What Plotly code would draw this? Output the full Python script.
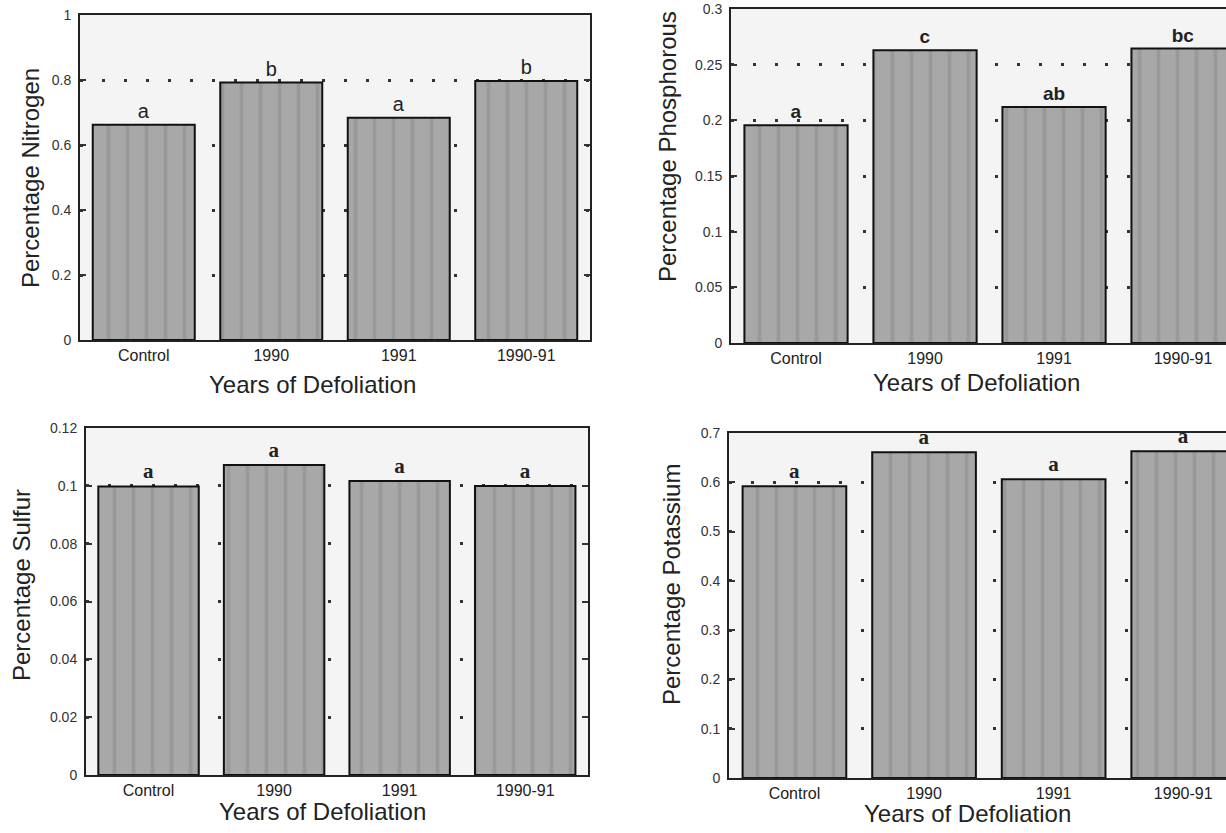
import plotly.graph_objects as go

categories = ["Control", "1990", "1991", "1990-91"]

nitrogen = [0.662, 0.792, 0.684, 0.797]
nitrogen_letters = ["a", "b", "a", "b"]

phosphorous = [0.1955, 0.263, 0.212, 0.2645]
phosphorous_letters = ["a", "c", "ab", "bc"]

sulfur = [0.0998, 0.1072, 0.1017, 0.0999]
sulfur_letters = ["a", "a", "a", "a"]

potassium = [0.592, 0.661, 0.606, 0.663]
potassium_letters = ["a", "a", "a", "a"]

W, H = 1226, 833

def px_x(a, b):
    return [a / W, min(b / W, 1.0)]

def px_y(top, bottom):
    return [1 - bottom / H, 1 - top / H]

panels = [
    dict(vals=nitrogen, letters=nitrogen_letters, ytitle="Percentage Nitrogen",
         xdom=px_x(80, 590), ydom=px_y(15, 340), xr=[-0.5, 3.5], yr=[0, 1], dt=0.2,
         mirror_y=True, lfont=dict(family="Liberation Sans, Arial", size=20, color="#222"),
         yt=(30, 178), xt=(313, 384)),
    dict(vals=phosphorous, letters=phosphorous_letters, ytitle="Percentage Phosphorous",
         xdom=px_x(731, 1226), ydom=px_y(9, 343), xr=[-0.504, 3.333], yr=[0, 0.3], dt=0.05,
         mirror_y=False, lfont=dict(family="Liberation Sans, Arial", size=19, color="#222", weight="bold"),
         yt=(667, 147), xt=(976, 382)),
    dict(vals=sulfur, letters=sulfur_letters, ytitle="Percentage Sulfur",
         xdom=px_x(86, 588), ydom=px_y(428, 775), xr=[-0.498, 3.5], yr=[0, 0.12], dt=0.02,
         mirror_y=True, lfont=dict(family="Liberation Serif, Times New Roman", size=21, color="#222", weight="bold"),
         yt=(21, 585), xt=(322, 811)),
    dict(vals=potassium, letters=potassium_letters, ytitle="Percentage Potassium",
         xdom=px_x(729, 1226), ydom=px_y(433, 778), xr=[-0.505, 3.33], yr=[0, 0.7], dt=0.1,
         mirror_y=False, lfont=dict(family="Liberation Serif, Times New Roman", size=21, color="#222", weight="bold"),
         yt=(671, 585), xt=(967, 813)),
]

fig = go.Figure()
annotations = []
tickfont = dict(family="Liberation Sans, Arial", size=14, color="#333")
titlefont = dict(family="Liberation Sans, Arial", size=24, color="#222")

for i, p in enumerate(panels, start=1):
    suffix = "" if i == 1 else str(i)
    fig.add_trace(go.Bar(
        x=categories, y=p["vals"], text=p["letters"], textposition="outside",
        textfont=p["lfont"], cliponaxis=False,
        marker=dict(color="#a3a3a3", line=dict(color="#111", width=2),
                    pattern=dict(shape="|", fgcolor="#8a8a8a", bgcolor="#a8a8a8",
                                 size=19, solidity=0.2)),
        xaxis="x" + suffix, yaxis="y" + suffix, showlegend=False, hoverinfo="x+y",
    ))
    fig.layout["xaxis" + suffix] = dict(
        domain=p["xdom"], anchor="y" + suffix, range=p["xr"], type="category",
        showline=True, linecolor="#222", linewidth=2, mirror=True, automargin=False,
        ticks="", showgrid=False, tickfont=dict(family="Liberation Sans, Arial", size=16, color="#222"),
        fixedrange=True,
    )
    fig.layout["yaxis" + suffix] = dict(
        domain=p["ydom"], anchor="x" + suffix, range=p["yr"], dtick=p["dt"], tick0=0,
        showline=True, linecolor="#222", linewidth=2, automargin=False,
        mirror="ticks" if p["mirror_y"] else False,
        ticks="inside", ticklen=6, tickwidth=1.5, tickcolor="#333",
        showgrid=True, gridcolor="#333", gridwidth=2.5, griddash="3px,19px",
        zeroline=False, tickfont=tickfont, ticklabelstandoff=4, fixedrange=True,
        ticklabeloverflow="allow",
    )
    annotations.append(dict(
        text=p["ytitle"], x=p["yt"][0] / W, y=1 - p["yt"][1] / H, xref="paper", yref="paper",
        textangle=-90, showarrow=False, font=titlefont, xanchor="center", yanchor="middle",
    ))
    annotations.append(dict(
        text="Years of Defoliation", x=p["xt"][0] / W, y=1 - p["xt"][1] / H, xref="paper", yref="paper",
        showarrow=False, font=titlefont, xanchor="center", yanchor="middle",
    ))

fig.update_layout(
    width=W, height=H, margin=dict(l=0, r=0, t=0, b=0, autoexpand=False),
    paper_bgcolor="white", plot_bgcolor="#f4f4f4",
    bargap=0.2, annotations=annotations,
    font=dict(family="Liberation Sans, Arial"),
)

fig.write_html(
    "out.html",
    config={"displayModeBar": False},
    post_script="document.body.style.margin='0';document.body.style.overflow='hidden';",
)
